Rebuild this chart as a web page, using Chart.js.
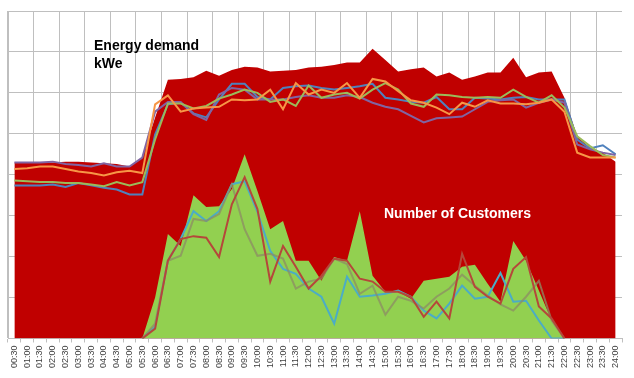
<!DOCTYPE html>
<html>
<head>
<meta charset="utf-8">
<script src="https://cdn.jsdelivr.net/npm/chart.js@4/dist/chart.umd.min.js"></script>
<style>
html,body{margin:0;padding:0;background:#fff;}
#wrap{position:relative;width:634px;height:378px;}
</style>
</head>
<body>
<div id="wrap"><canvas id="c" width="634" height="378"></canvas></div>
<script>
// Category (time of day) labels
const timeLabels = ['00:30','01:00','01:30','02:00','02:30','03:00','03:30','04:00','04:30','05:00','05:30','06:00',
  '06:30','07:00','07:30','08:00','08:30','09:00','09:30','10:00','10:30','11:00','11:30','12:00',
  '12:30','13:00','13:30','14:00','14:30','15:00','15:30','16:00','16:30','17:00','17:30','18:00',
  '18:30','19:00','19:30','20:00','20:30','21:00','21:30','22:00','22:30','23:00','23:30','24:00'];

// Energy demand (kWe) - total envelope (red area)
const energyTotal = [215,215,215,215,216,216,215,214,213,210,221,270,
  316,317,319,327,321,328,332,331,326,327,328,331,
  332,334,337,337,354,340,326,329,331,320,325,316,
  320,325,325,343,319,325,326,294,247,233,227,216];

// Energy demand - individual days (lines)
const energyBlue = [187,187,187,188,185,190,187,184,182,176,176,249,
  286,288,275,270,292,311,311,295,292,306,308,309,
  306,304,306,308,311,294,292,289,288,295,280,280,
  294,293,292,294,295,292,292,292,243,232,236,225];
const energyPurple = [215,215,215,216,213,212,210,214,210,210,221,277,
  289,289,274,267,298,306,304,292,292,292,295,297,
  294,294,297,295,288,283,280,272,264,269,270,271,
  280,289,291,292,282,288,292,288,237,231,227,224];
const energyGreen = [193,192,191,191,190,190,188,186,191,187,191,243,
  287,287,281,284,293,298,304,300,289,292,284,309,
  294,298,300,293,304,312,304,287,283,298,297,295,
  294,295,294,304,295,288,297,282,247,235,224,221];
const energyOrange = [207,208,210,210,207,204,202,199,203,205,202,286,
  297,277,281,282,283,292,291,292,304,280,312,298,
  304,300,312,294,317,314,302,291,288,282,274,288,
  283,291,287,287,286,288,292,277,227,221,221,221];

// Number of customers - total (green area)
const customersTotal = [0,0,0,0,0,0,0,0,0,0,0,10,
  25.5,22.6,35.0,32.1,32.3,36.5,45.0,36.0,26.7,28.7,19.0,19.0,
  14.1,19.9,19.0,31.1,15.3,11.4,11.4,9.7,14.1,14.6,15.1,17.5,
  18.0,13.4,9.0,23.8,19.0,11.7,4.4,0,0,0,0,0];

// Number of customers - individual days (lines)
const customersBrown = [null,null,null,null,null,null,null,null,null,null,0,2.4,
  19.0,24.3,25.0,24.6,19.9,32.8,39.4,31.6,13.9,22.6,17.5,12.2,
  15.3,19.5,19.0,14.6,13.9,11.4,11.4,10.2,5.3,9.0,4.9,20.7,
  12.6,10.2,8.5,17.0,19.9,7.8,4.9,0,null,null,null,null];
const customersAqua = [null,null,null,null,null,null,null,null,null,null,0,2.9,
  19.0,24.3,31.1,28.7,31.1,37.7,38.4,30.9,21.4,17.0,15.8,12.2,
  10.2,3.6,15.1,10.2,10.5,10.9,11.7,10.2,6.8,4.9,8.5,12.9,
  9.7,10.2,16.0,9.0,9.2,4.4,0,0,null,null,null,null];
const customersOlive = [null,null,null,null,null,null,null,null,null,null,0,3.6,
  19.0,20.2,29.2,28.7,30.4,37.7,26.7,20.2,20.7,19.5,12.2,13.9,
  14.6,19.5,18.2,10.9,12.9,5.8,10.2,9.2,7.3,10.2,12.2,15.6,
  12.9,10.5,8.3,6.8,10.2,14.1,4.4,0,null,null,null,null];

const FONT = '"Liberation Sans", Arial, sans-serif';

const textPlugin = {
  id: 'texts',
  afterDatasetsDraw(chart) {
    const ctx = chart.ctx;
    ctx.save();
    ctx.font = 'bold 14px ' + FONT;
    ctx.textAlign = 'left';
    ctx.textBaseline = 'alphabetic';
    ctx.fillStyle = '#000000';
    ctx.fillText('Energy demand', 94, 50);
    ctx.fillText('kWe', 94, 68);
    ctx.fillStyle = '#FFFFFF';
    ctx.fillText('Number of Customers', 384, 218);
    ctx.restore();
  }
};

function lineDs(data, color, order, axis) {
  return {
    data: data, borderColor: color, borderWidth: 2, pointRadius: 0,
    fill: false, tension: 0, order: order, yAxisID: axis, spanGaps: false
  };
}

new Chart(document.getElementById('c'), {
  type: 'line',
  data: {
    labels: timeLabels,
    datasets: [
      lineDs(customersBrown, '#B5473A', 0, 'y2'),
      lineDs(customersOlive, 'rgba(140,140,100,0.75)', 0, 'y2'),
      lineDs(customersAqua, '#4BACC6', 0, 'y2'),
      { data: customersTotal, yAxisID: 'y2', fill: 'origin', backgroundColor: '#92D050',
        borderWidth: 0, pointRadius: 0, tension: 0, order: 1 },
      lineDs(energyOrange, '#F79646', 2, 'y'),
      lineDs(energyGreen, '#9BBB59', 2, 'y'),
      lineDs(energyPurple, '#8064A2', 2, 'y'),
      lineDs(energyBlue, '#4F81BD', 2, 'y'),
      { data: energyTotal, yAxisID: 'y', fill: 'origin', backgroundColor: '#C00000',
        borderWidth: 0, pointRadius: 0, tension: 0, order: 3 }
    ]
  },
  options: {
    responsive: false,
    animation: false,
    layout: { padding: { left: 8, right: 12, top: 11, bottom: 7 } },
    plugins: { legend: { display: false }, tooltip: { enabled: false } },
    scales: {
      x: {
        type: 'category',
        offset: true,
        grid: {
          offset: true,
          color: (c) => (c.index % 2 === 0 ? '#BFBFBF' : 'rgba(0,0,0,0)'),
          tickColor: '#BFBFBF',
          tickLength: 4,
          drawTicks: true
        },
        border: { display: true, color: '#BFBFBF' },
        ticks: {
          autoSkip: false, maxRotation: 90, minRotation: 90, padding: 3,
          color: '#404040', font: { family: FONT, size: 9 }
        }
      },
      y: {
        min: 0, max: 400,
        ticks: { display: false, stepSize: 50 },
        grid: { color: '#BFBFBF', drawTicks: false },
        border: { display: true, color: '#BFBFBF' }
      },
      y2: {
        display: false, min: 0, max: 80
      }
    }
  },
  plugins: [textPlugin]
});
</script>
</body>
</html>
